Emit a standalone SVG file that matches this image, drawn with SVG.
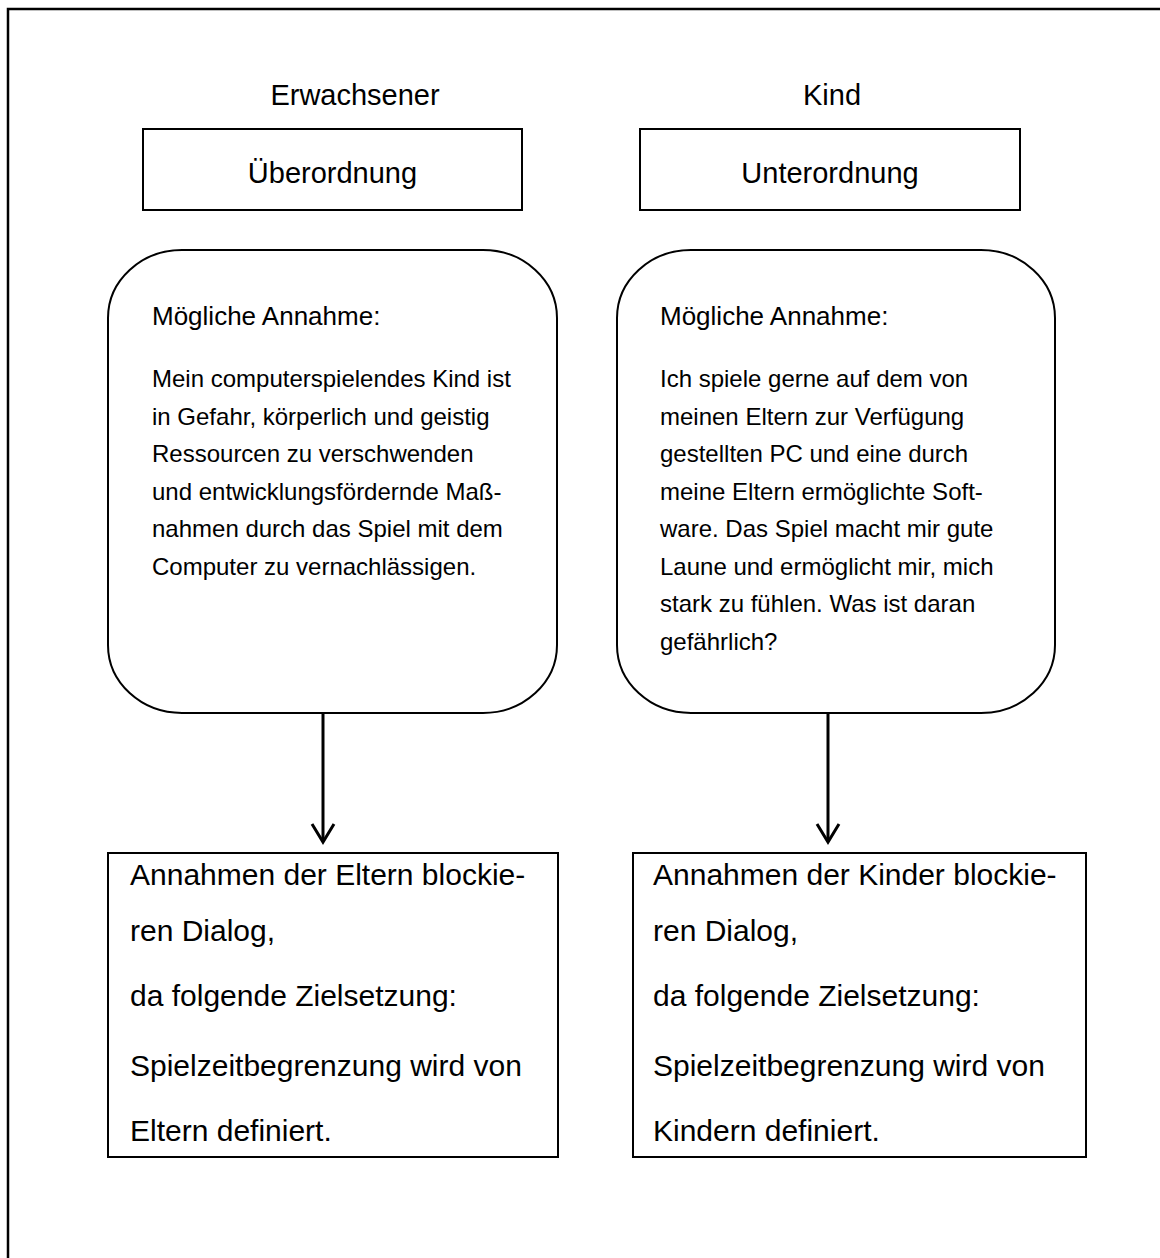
<svg xmlns="http://www.w3.org/2000/svg" width="1160" height="1258" viewBox="0 0 1160 1258">
<style>
text{font-family:"Liberation Sans",Arial,sans-serif;fill:#000}
.hd{font-size:29px}
.lb{font-size:26px}
.bd{font-size:24px}
.bt{font-size:30px}
.box{fill:#fff;stroke:#000;stroke-width:2}
.conn{fill:none;stroke:#000;stroke-width:3}
</style>
<rect width="1160" height="1258" fill="#fff"/>
<path d="M8,1258 V9 H1160" fill="none" stroke="#000" stroke-width="2.5"/>
<g id="hdr-erwachsener"><text class="hd" x="355" y="105" text-anchor="middle">Erwachsener</text></g>
<g id="hdr-kind"><text class="hd" x="832" y="105" text-anchor="middle">Kind</text></g>
<g id="ueberordnung">
<rect class="box" x="143" y="129" width="379" height="81"/>
<text class="hd" x="332.5" y="183" text-anchor="middle">Überordnung</text>
</g>
<g id="unterordnung">
<rect class="box" x="640" y="129" width="380" height="81"/>
<text class="hd" x="830" y="183" text-anchor="middle">Unterordnung</text>
</g>
<g id="annahme-eltern">
<rect class="box" x="108" y="250" width="449" height="463" rx="74" ry="68"/>
<text class="lb" x="152" y="325">Mögliche Annahme:</text>
<text class="bd" x="152" y="387">Mein computerspielendes Kind ist</text>
<text class="bd" x="152" y="424.5">in Gefahr, körperlich und geistig</text>
<text class="bd" x="152" y="462">Ressourcen zu verschwenden</text>
<text class="bd" x="152" y="499.5">und entwicklungsfördernde Maß-</text>
<text class="bd" x="152" y="537">nahmen durch das Spiel mit dem</text>
<text class="bd" x="152" y="574.5">Computer zu vernachlässigen.</text>
</g>
<g id="annahme-kind">
<rect class="box" x="617" y="250" width="438" height="463" rx="74" ry="68"/>
<text class="lb" x="660" y="325">Mögliche Annahme:</text>
<text class="bd" x="660" y="387">Ich spiele gerne auf dem von</text>
<text class="bd" x="660" y="424.5">meinen Eltern zur Verfügung</text>
<text class="bd" x="660" y="462">gestellten PC und eine durch</text>
<text class="bd" x="660" y="499.5">meine Eltern ermöglichte Soft-</text>
<text class="bd" x="660" y="537">ware. Das Spiel macht mir gute</text>
<text class="bd" x="660" y="574.5">Laune und ermöglicht mir, mich</text>
<text class="bd" x="660" y="612">stark zu fühlen. Was ist daran</text>
<text class="bd" x="660" y="649.5">gefährlich?</text>
</g>
<g id="ziel-eltern">
<rect class="box" x="108" y="853" width="450" height="304"/>
<text class="bt" x="130" y="885">Annahmen der Eltern blockie-</text>
<text class="bt" x="130" y="941">ren Dialog,</text>
<text class="bt" x="130" y="1006">da folgende Zielsetzung:</text>
<text class="bt" x="130" y="1076">Spielzeitbegrenzung wird von</text>
<text class="bt" x="130" y="1141">Eltern definiert.</text>
</g>
<g id="ziel-kinder">
<rect class="box" x="633" y="853" width="453" height="304"/>
<text class="bt" x="653" y="885">Annahmen der Kinder blockie-</text>
<text class="bt" x="653" y="941">ren Dialog,</text>
<text class="bt" x="653" y="1006">da folgende Zielsetzung:</text>
<text class="bt" x="653" y="1076">Spielzeitbegrenzung wird von</text>
<text class="bt" x="653" y="1141">Kindern definiert.</text>
</g>
<g id="connectors">
<path class="conn" d="M323,713 V842"/>
<path class="conn" d="M312,824 L323,842 L334,824"/>
<path class="conn" d="M828,713 V842"/>
<path class="conn" d="M817,824 L828,842 L839,824"/>
</g>
</svg>
